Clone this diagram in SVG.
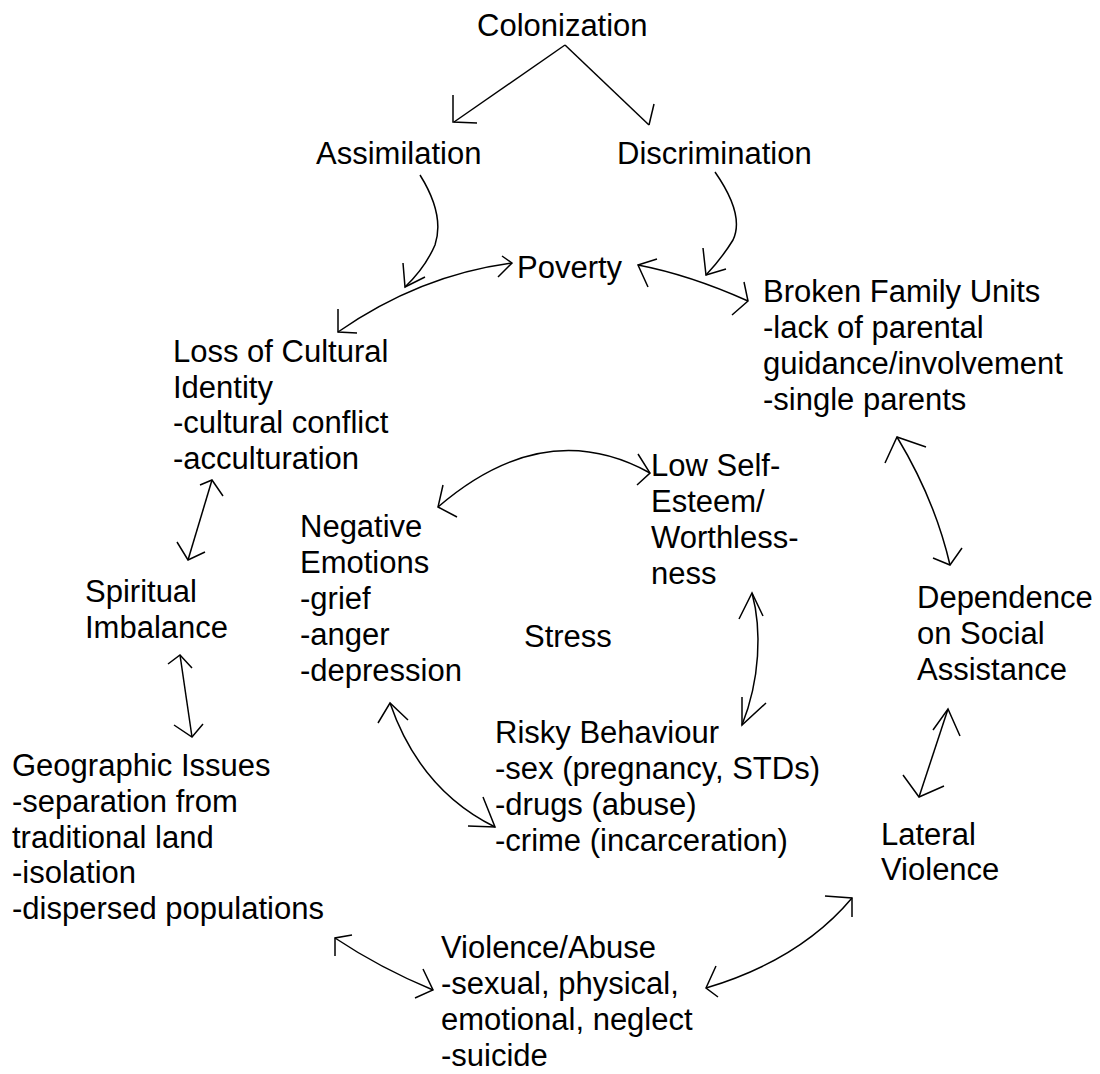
<svg xmlns="http://www.w3.org/2000/svg" width="1100" height="1074" viewBox="0 0 1100 1074">
<style>
text{font-family:"Liberation Sans",Arial,sans-serif;font-size:31px;fill:#000}
.c{fill:none;stroke:#000;stroke-width:1.5}
</style>
<rect width="1100" height="1074" fill="#fff"/>
<g id="colonization"><text x="477" y="36">Colonization</text></g>
<g id="assimilation"><text x="316" y="164">Assimilation</text></g>
<g id="discrimination"><text x="617" y="164">Discrimination</text></g>
<g id="poverty"><text x="517" y="278">Poverty</text></g>
<g id="broken-family"><text x="763" y="302">Broken Family Units</text><text x="763" y="338">-lack of parental</text><text x="763" y="374">guidance/involvement</text><text x="763" y="410">-single parents</text></g>
<g id="loss-cultural"><text x="173" y="362">Loss of Cultural</text><text x="173" y="398">Identity</text><text x="173" y="433">-cultural conflict</text><text x="173" y="469">-acculturation</text></g>
<g id="low-self-esteem"><text x="651" y="476">Low Self-</text><text x="651" y="512">Esteem/</text><text x="651" y="548">Worthless-</text><text x="651" y="584">ness</text></g>
<g id="negative-emotions"><text x="300" y="537">Negative</text><text x="300" y="573">Emotions</text><text x="300" y="609">-grief</text><text x="300" y="645">-anger</text><text x="300" y="681">-depression</text></g>
<g id="spiritual"><text x="85" y="602">Spiritual</text><text x="85" y="638">Imbalance</text></g>
<g id="stress"><text x="524" y="647">Stress</text></g>
<g id="dependence"><text x="917" y="608">Dependence</text><text x="917" y="644">on Social</text><text x="917" y="680">Assistance</text></g>
<g id="risky"><text x="495" y="743">Risky Behaviour</text><text x="495" y="779">-sex (pregnancy, STDs)</text><text x="495" y="815">-drugs (abuse)</text><text x="495" y="851">-crime (incarceration)</text></g>
<g id="geographic"><text x="12" y="776">Geographic Issues</text><text x="12" y="812">-separation from</text><text x="12" y="848">traditional land</text><text x="12" y="883">-isolation</text><text x="12" y="919">-dispersed populations</text></g>
<g id="lateral"><text x="881" y="845">Lateral</text><text x="881" y="880">Violence</text></g>
<g id="violence-abuse"><text x="441" y="958">Violence/Abuse</text><text x="441" y="994">-sexual, physical,</text><text x="441" y="1030">emotional, neglect</text><text x="441" y="1066">-suicide</text></g>
<g id="connectors" class="c">
<path d="M565,45 L454,122"/><path d="M453,95 L453,122 L477,123"/>
<path d="M565,45 L649,125"/><path d="M649,125 L654,104"/>
<path d="M420,175 Q445,215 435,245 Q425,268 405,287"/><path d="M403,263 L405,287 L425,277"/>
<path d="M715,172 Q745,215 733,240 Q722,258 706,275"/><path d="M703,248 L706,275 L726,269"/>
<path d="M338,332 Q420,275 512,263"/><path d="M338,309 L338,332 L357,333"/><path d="M502,256 L512,263 L498,277"/>
<path d="M638,265 Q690,275 748,301"/><path d="M657,259 L638,265 L648,287"/><path d="M744,282 L748,301 L732,315"/>
<path d="M897,437 Q935,500 950,565"/><path d="M885,463 L897,437 L926,447"/><path d="M933,558 L950,565 L962,548"/>
<path d="M438,507 Q545,415 650,473"/><path d="M443,485 L438,507 L457,517"/><path d="M638,454 L650,473 L637,485"/>
<path d="M752,593 C762,630 760,680 742,725"/><path d="M739,619 L752,593 L763,616"/><path d="M742,697 L742,725 L766,703"/>
<path d="M390,703 Q420,790 495,827"/><path d="M378,723 L390,703 L408,720"/><path d="M468,826 L495,827 L483,797"/>
<path d="M212,480 L188,560"/><path d="M200,485 L212,480 L223,496"/><path d="M177,542 L188,560 L205,552"/>
<path d="M180,655 L192,737"/><path d="M168,664 L180,655 L192,668"/><path d="M174,725 L192,737 L203,724"/>
<path d="M948,709 L919,797"/><path d="M933,730 L948,709 L960,736"/><path d="M903,775 L919,797 L944,786"/>
<path d="M335,938 Q380,968 433,990"/><path d="M352,935 L335,938 L335,956"/><path d="M423,969 L433,990 L415,998"/>
<path d="M852,898 Q800,960 706,988"/><path d="M825,896 L852,898 L852,917"/><path d="M716,966 L706,988 L718,997"/>
</g>
</svg>
